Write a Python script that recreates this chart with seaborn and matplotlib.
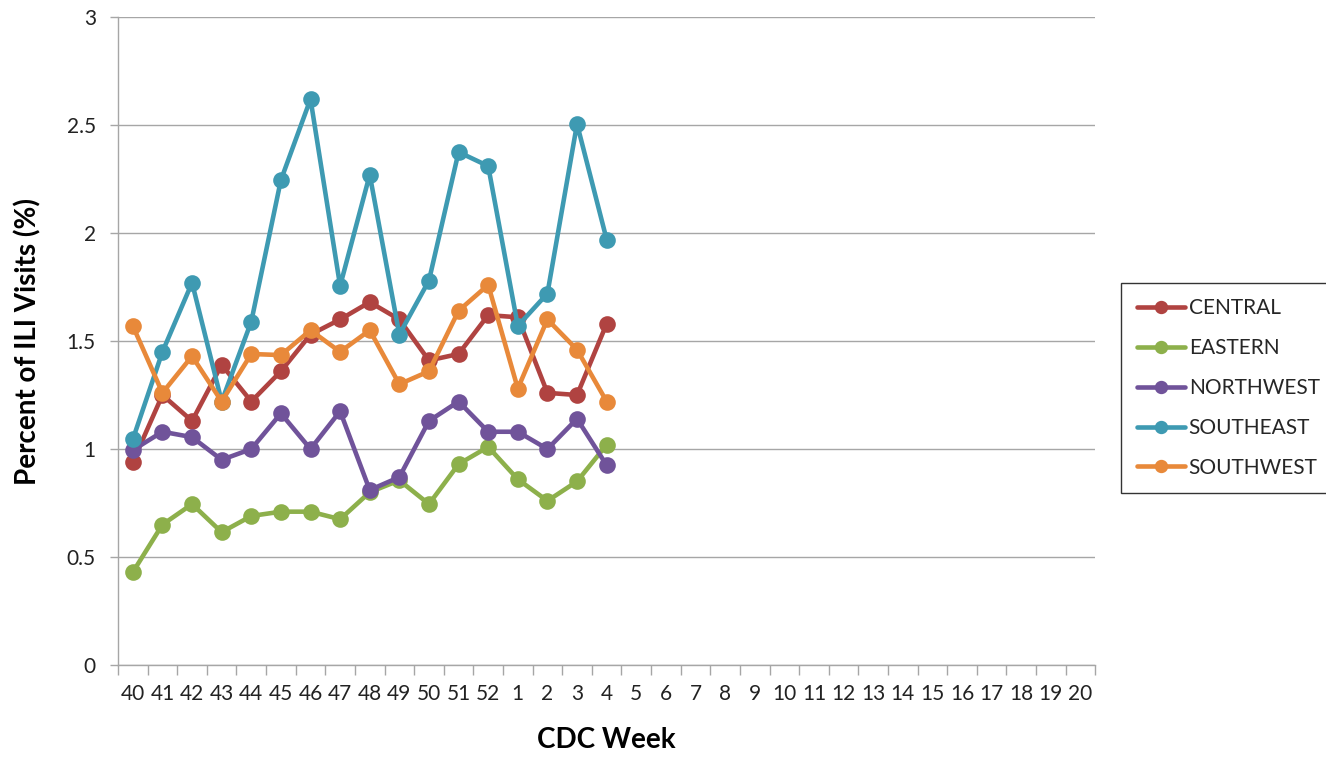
import numpy as np
import pandas as pd
import matplotlib
matplotlib.use("Agg")
import matplotlib.pyplot as plt
import seaborn as sns
from matplotlib.ticker import FuncFormatter, FixedLocator

# CDC weeks shown on the axis (season runs week 40 through week 20)
weeks = [str(w) for w in list(range(40, 53)) + list(range(1, 21))]
observed_weeks = [str(w) for w in list(range(40, 53)) + list(range(1, 5))]

central = [0.94, 1.25, 1.13, 1.39, 1.22, 1.36, 1.53, 1.60, 1.68, 1.60, 1.41, 1.44, 1.62, 1.61, 1.26, 1.25, 1.58]
eastern = [0.43, 0.65, 0.745, 0.615, 0.69, 0.71, 0.71, 0.675, 0.80, 0.855, 0.745, 0.93, 1.01, 0.86, 0.76, 0.85, 1.02]
northwest = [0.995, 1.08, 1.055, 0.95, 1.00, 1.165, 1.00, 1.175, 0.81, 0.87, 1.13, 1.22, 1.08, 1.08, 1.00, 1.14, 0.925]
southeast = [1.045, 1.45, 1.77, 1.22, 1.59, 2.245, 2.62, 1.755, 2.27, 1.53, 1.78, 2.375, 2.31, 1.57, 1.72, 2.505, 1.97]
southwest = [1.57, 1.26, 1.43, 1.22, 1.44, 1.435, 1.55, 1.45, 1.55, 1.30, 1.36, 1.64, 1.76, 1.28, 1.60, 1.46, 1.22]

regions = ["CENTRAL", "EASTERN", "NORTHWEST", "SOUTHEAST", "SOUTHWEST"]
series = [central, eastern, northwest, southeast, southwest]
colors = ["#B04341", "#8DB04B", "#70539A", "#3E9AB2", "#E8893A"]

frames = []
for name, vals in zip(regions, series):
    frames.append(pd.DataFrame({"week": observed_weeks, "pct": vals, "region": name}))
df = pd.concat(frames, ignore_index=True)

sns.set_theme(style="white")
plt.rcParams["font.family"] = ["Lato", "DejaVu Sans"]

fig = plt.figure(figsize=(13.26, 7.57), dpi=100)
ax = fig.add_axes([0.089, 0.1215, 0.737, 0.856])

sns.pointplot(
    data=df, x="week", y="pct", hue="region",
    order=weeks, hue_order=regions, palette=colors,
    markers="o", errorbar=None, dodge=False, ax=ax,
    linewidth=3.3, markersize=9.5,
)

ax.set_xlim(-0.5, len(weeks) - 0.5)
ax.set_ylim(0, 3)
ax.set_yticks(np.arange(0, 3.01, 0.5))
ax.yaxis.set_major_formatter(FuncFormatter(lambda v, p: f"{v:g}"))
ax.grid(axis="y", color="#A6A6A6", linewidth=1.0)
ax.grid(axis="x", visible=False)
ax.set_axisbelow(True)

# tick marks sit between categories, labels centered on each category
ax.xaxis.set_minor_locator(FixedLocator(np.arange(-0.5, len(weeks), 1.0)))
ax.tick_params(axis="x", which="major", length=0, pad=14, labelsize=15, colors="#222222")
ax.tick_params(axis="x", which="minor", length=7, width=1, color="#A6A6A6", bottom=True)
ax.tick_params(axis="y", which="major", length=6, width=1, color="#A6A6A6", left=True,
               labelsize=15, colors="#222222", pad=10)

for side in ["top", "right"]:
    ax.spines[side].set_visible(False)
for side in ["left", "bottom"]:
    ax.spines[side].set_color("#A6A6A6")
    ax.spines[side].set_linewidth(1.0)

ax.set_xlabel("CDC Week", fontsize=20, fontweight="bold", labelpad=16, color="black")
ax.set_ylabel("Percent of ILI Visits (%)", fontsize=20, fontweight="bold", labelpad=18, color="black")

# move the legend outside the plotting area, to the right
handles, labels = ax.get_legend_handles_labels()
if ax.get_legend() is not None:
    ax.get_legend().remove()
leg = fig.legend(handles, labels, loc="center left",
                 bbox_to_anchor=(1121 / 1326, 1 - 388 / 757), bbox_transform=fig.transFigure,
                 borderaxespad=0, frameon=True, fancybox=False, fontsize=15,
                 handlelength=2.3, labelspacing=0.95, borderpad=0.75, handletextpad=0.2,
                 markerscale=0.75)
leg.get_frame().set_edgecolor("black")
leg.get_frame().set_linewidth(1.0)
leg.get_frame().set_facecolor("white")

fig.savefig("out.png", dpi=100)
